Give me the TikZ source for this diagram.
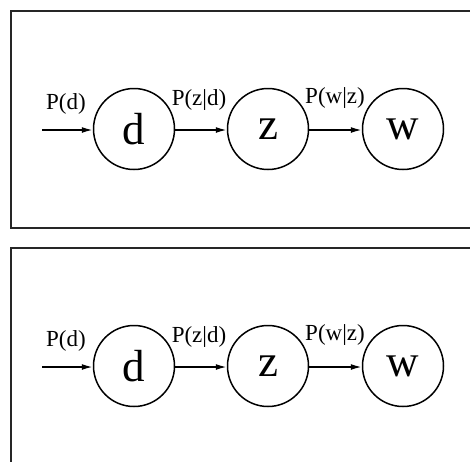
\documentclass[tikz,border=0pt]{standalone}
\usepackage{fontspec}
\setmainfont{Liberation Serif}
\usetikzlibrary{arrows.meta}
\begin{document}
\begin{tikzpicture}[x=1pt,y=-1pt,
  frame/.style={draw=black!85,line width=1.8pt},
  state/.style={circle,draw,line width=1.5pt,minimum size=81pt,inner sep=0pt,font=\fontsize{45}{45}\selectfont},
  prob/.style={font=\fontsize{23}{23}\selectfont,anchor=base,inner sep=0pt},
  edge/.style={line width=1.6pt,-{Latex[length=11pt,width=6pt]}}]
\useasboundingbox (0,0) rectangle (470,461);
\clip (0,0) rectangle (470,461);
\foreach \oy/\k in {0/1,237/2}{
  \begin{scope}[yshift=-\oy pt]
  \draw[frame] (11,11) rectangle (485,228);
  \node[state] (d\k) at (134,129) {d};
  \node[state] (z\k) at (268,129) {z};
  \node[state] (w\k) at (403,129) {w};
  \coordinate (in\k) at (42,130);
  \draw[edge] (in\k) -- (d\k.west|-in\k);
  \draw[edge] (d\k.east|-in\k) -- (z\k.west|-in\k);
  \draw[edge] (z\k.east|-in\k) -- (w\k.west|-in\k);
  \node[prob] (pd\k) at (66,109) {P(d)};
  \node[prob] (pzd\k) at (199,105) {P(z|d)};
  \node[prob] (pwz\k) at (335,103) {P(w|z)};
  \end{scope}
}
\end{tikzpicture}
\end{document}
